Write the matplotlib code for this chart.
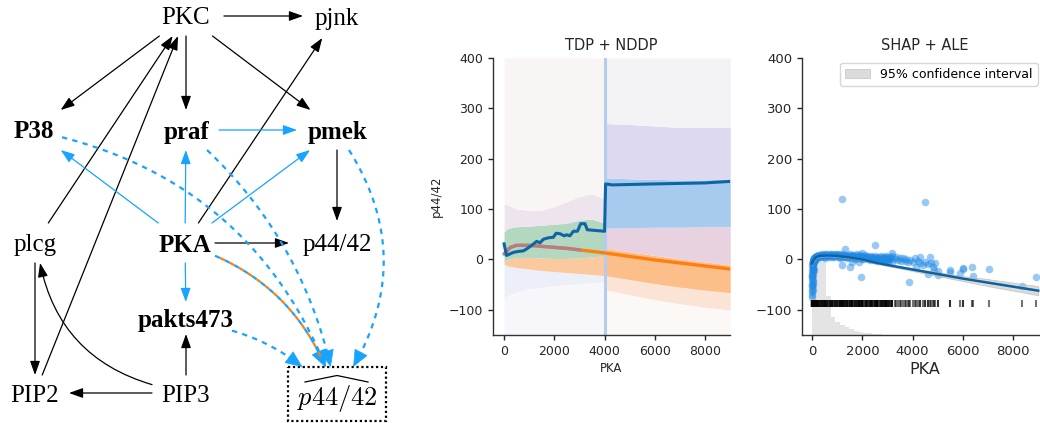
import matplotlib
matplotlib.use("Agg")
import matplotlib.pyplot as plt
import numpy as np
from matplotlib.patches import FancyArrowPatch, Rectangle

# ------------------------------------------------------------------ data
# causal graph
node_names = ["PKC", "pjnk", "P38", "praf", "pmek", "plcg", "PKA", "p44/42",
              "pakts473", "PIP2", "PIP3", "hat"]
bold_nodes = ["P38", "praf", "pmek", "PKA", "pakts473"]
target_label = r"$p44/42$"
edges_black = [("PKC", "pjnk", 0.0), ("PKC", "P38", 0.0), ("PKC", "praf", 0.0),
               ("PKC", "pmek", 0.0), ("PKA", "pjnk", 0.0), ("PKA", "p44/42", 0.0),
               ("pmek", "p44/42", 0.0), ("plcg", "PKC", 0.0), ("PIP2", "PKC", 0.0),
               ("plcg", "PIP2", 0.0), ("PIP3", "PIP2", 0.0), ("PIP3", "plcg", -0.3),
               ("PIP3", "pakts473", 0.0)]
edges_blue = [("praf", "pmek", 0.0), ("PKA", "P38", 0.0), ("PKA", "praf", 0.0),
              ("PKA", "pmek", 0.0), ("PKA", "pakts473", 0.0)]
edges_dashed = [("P38", "hat", -0.25), ("praf", "hat", -0.15),
                ("pmek", "hat", -0.3), ("pakts473", "hat", -0.1)]
edge_highlight = ("PKA", "hat", -0.2)

# TDP + NDDP panel
pka_left = [0, 150, 500, 1000, 1500, 2000, 2500, 3000, 3500, 4000]
green_hi = [55, 62, 65, 66, 68, 70, 72, 78, 80, 72]
green_lo = [-4, 0, 4, 4, 3, 2, 2, 3, 5, 8]
orange_lo_left = [-10, -13, -16, -19, -22, -24, -26, -28, -30, -32]
haze_hi_left = [110, 108, 100, 98, 98, 105, 115, 125, 130, 120]
haze_lo_left = [-80, -72, -64, -58, -55, -52, -50, -48, -46, -44]

pka_right = [4000, 5000, 6000, 7000, 8000, 9000]
lav_hi_right = [270, 268, 265, 262, 262, 262]
blue_hi_right = [162, 160, 159, 158, 158, 160]
blue_lo_right = [62, 63, 64, 64, 65, 65]
orng_hi_right = [22, 15, 8, 1, -5, -11]
orng_lo_right = [-32, -40, -48, -55, -61, -66]
peach_lo_right = [-60, -70, -80, -88, -95, -100]

nddp_x = [0, 250, 500, 1000, 1500, 2000, 2500, 3000, 3500, 4000,
          5000, 6000, 7000, 8000, 9000]
nddp_y = [11, 24, 28, 28, 26, 24, 22, 19, 16, 13, 6, -1, -7, -13, -19]

tdp_x = [0, 100, 370, 570, 770, 900, 1100, 1300, 1430, 1560, 1760, 1960, 2070,
         2230, 2390, 2490, 2620, 2760, 2920, 3050, 3220, 3310, 4000, 4040,
         4300, 6000, 8000, 9000]
tdp_y = [31, 8, 14, 16, 17, 21, 28, 36, 33, 40, 43, 44, 52, 51, 47, 49, 47, 56,
         56, 71, 71, 59, 56, 150, 148, 150, 152, 155]

# SHAP + ALE panel
shap_x = [5, 8, 10, 12, 10, 15, 15, 18, 20, 22, 25, 30, 35, 40, 50, 60, 70, 80,
          90, 100, 30, 40, 50, 60, 20, 45, 70, 90, 110, 130, 150, 170,
          0, 0, 5, 10, 20, 25, 35, 15, 8, 40, 55, 65, 85, 12, 28, 48, 75, 95,
          120, 160, 200, 250, 300, 350, 400, 450, 500, 550, 600, 700, 750, 800,
          900, 950, 1000, 1100, 1150, 1250, 1300, 1400, 1500, 1550, 1600, 1700,
          1800, 1850, 1900, 2000, 2100, 2150, 2200, 2300, 2350, 2400, 2500, 2550,
          2600, 2700, 2750, 2800, 2850, 2900, 2950, 3000, 3050, 3100, 3150, 3200,
          3300, 3350, 3400, 3500, 3550, 3600, 3700, 3750, 3800, 3900, 4000, 4100,
          4200, 4300, 4400, 4500, 4600, 4700, 4800, 4900, 5000, 4850,
          130, 180, 220, 280, 330, 380, 420, 480, 530, 580, 630, 680, 730, 780,
          830, 880, 930, 980, 1030, 1080, 1130, 1180, 1230, 1280, 1330, 1380,
          1430, 1480, 1530, 1580, 1630, 1680, 1730, 1780, 1830, 1880, 1930, 1980,
          2030, 2080, 2130, 2180, 2230, 2280, 2330, 2380, 2430, 2480, 2530, 2580,
          2630, 2680, 2730, 2780, 2830, 2880, 2930, 2980, 3030, 3080,
          250, 500, 800, 1100, 1400, 1700, 2000, 2300, 2600, 2900, 3200,
          1200, 4500, 2500, 1300, 1200, 1500, 1950, 3850, 5500, 5500, 5900, 6000,
          6000, 6350, 6400, 7050, 8350, 8900, 2000, 1850, 1600, 3200, 4300, 4150,
          4750, 4600, 5000]
shap_y = [-75, -65, -55, -48, -40, -35, -28, -22, -18, -14, -10, -8, -5, -3, -2,
          0, -1, 2, 1, 3, -60, -45, -30, -20, -50, -12, -6, -4, -2, 0, 4, 2,
          -70, -50, -30, -20, -8, -40, -25, -60, -12, -15, -8, -3, -2, -35, -18,
          -6, 0, 2,
          5, 7, 6, 8, 9, 8, 10, 9, 11, 9, 10, 11, 9, 10, 11, 9, 10, 11, 8, 10, 9,
          8, 10, 7, 9, 8, 10, 7, 8, 7, 9, 5, 6, 4, 7, 5, 6, 3, 5, 4, 7, 3, 5, 2, 6,
          4, 0, 5, 2, 6, 0, 4, -2, 3, -3, 2, -4, 0, -6, -2, -5, 2, -3, -8, -12,
          -5, -10, 5, -15, -8, -22, -20,
          1, 4, 7, 4, 6, 5, 7, 5, 8, 6, 7, 5, 8, 6, 8, 5, 7, 6, 8, 5, 7, 4, 7, 5,
          6, 4, 7, 5, 6, 3, 6, 4, 6, 3, 5, 2, 5, 3, 4, 1, 4, 2, 3, 0, 3, 1, 2, -1,
          2, 0, 1, -2, 1, -1, 0, -3, 1, -2, -1, -3,
          2, 3, 4, 3, 2, 1, 0, -2, -3, -4, -6,
          120, 115, 28, 20, -12, -15, -35, -45, -20, -25, -26, -17, -18, -15,
          -32, -18, -52, -35, 13, -5, -5, 12, 4, -15, -8, -28, -30]
ale_x = [0, 50, 150, 300, 600, 1000, 1500, 2000, 2500, 3000, 4000, 5000, 6000,
         7000, 8000, 9000]
ale_y = [-8, -2, 4, 7, 8, 7, 4, 0, -6, -11, -20, -29, -38, -46, -54, -62]
ale_ci = [4, 3, 2, 2, 2, 2, 2, 2, 2, 2, 3, 4, 5, 7, 8, 9]
hist_edges = [0, 185, 370, 555, 740, 925, 1110, 1295, 1480, 1665, 1850, 2035,
              2220, 2405, 2590, 2775]
hist_top = [-30, -6, -6, -72, -115, -125, -131, -135, -139, -142, -144, -146,
            -147, -148, -149]

# ------------------------------------------------------------------ figure
W, H = 1040, 423
fig = plt.figure(figsize=(W / 100, H / 100), dpi=100)

# ---------------- graph (pixel-like coordinates)
ax0 = fig.add_axes([0, 0, 416 / W, 1])
ax0.set_xlim(0, 416)
ax0.set_ylim(H, 0)
ax0.axis("off")

pos = {"PKC": (186, 16), "pjnk": (337, 16), "P38": (34, 130), "praf": (186, 130),
       "pmek": (337, 130), "plcg": (35, 243), "PKA": (185, 243),
       "p44/42": (337, 243), "pakts473": (186, 318), "PIP2": (35, 393),
       "PIP3": (186, 393), "hat": (337, 394)}
half = {"PKC": (38, 20), "pjnk": (34, 22), "P38": (28, 20), "praf": (33, 20),
        "pmek": (40, 20), "plcg": (30, 20), "PKA": (30, 20), "p44/42": (48, 22),
        "pakts473": (46, 16), "PIP2": (34, 18), "PIP3": (34, 18), "hat": (49, 27)}

serif = "Liberation Serif"
for n in node_names:
    x, y = pos[n]
    if n == "hat":
        ax0.text(x, y + 11, target_label, fontsize=19, ha="center", va="baseline",
                 math_fontfamily="cm")
        ax0.plot([x - 32, x, x + 31], [y - 12, y - 18.5, y - 12], color="black",
                 lw=0.9, solid_joinstyle="miter")
        w, h = half[n]
        ax0.add_patch(Rectangle((x - w, y - h), 2 * w, 2 * h, fill=False,
                                ls=(0, (1, 1.2)), lw=1.6, ec="black"))
    else:
        ax0.text(x, y + 8.5, n, fontsize=18, family=serif, ha="center",
                 va="baseline", weight="bold" if n in bold_nodes else "normal")


def clip(node, d):
    cx, cy = pos[node]
    w, h = half[node]
    dx, dy = d
    t = min(w / abs(dx) if dx else np.inf, h / abs(dy) if dy else np.inf)
    return (cx + dx * t, cy + dy * t)


def ends(a, b, rad):
    p0 = np.array(pos[a], float)
    p2 = np.array(pos[b], float)
    m = (p0 + p2) / 2
    dx, dy = p2 - p0
    c = m + rad * np.array([-dy, dx])
    return clip(a, c - p0), clip(b, c - p2)


def arrow(a, b, rad, color, lw, ms=12, hl=0.7, hw=0.25):
    s, e = ends(a, b, rad)
    p = FancyArrowPatch(s, e, arrowstyle=f"-|>,head_length={hl},head_width={hw}",
                        connectionstyle=f"arc3,rad={rad}", mutation_scale=ms,
                        color=color, lw=lw, shrinkA=0, shrinkB=0)
    ax0.add_patch(p)


def dashed(a, b, rad, color, offset=0.0, head=True):
    s, e = (np.array(p) for p in ends(a, b, rad))
    d = e - s
    c = (s + e) / 2 + rad * np.array([-d[1], d[0]])
    t = np.linspace(0, 1, 120)[:, None]
    pts = (1 - t) ** 2 * s + 2 * t * (1 - t) * c + t ** 2 * e
    dist = np.hypot(*(pts - e).T)
    keep = dist > 9
    ax0.plot(pts[keep, 0], pts[keep, 1], color=color, lw=1.6,
             linestyle=(offset, (2.4, 2.4)), dash_capstyle="butt")
    if head:
        i = np.argmin(np.abs(dist - 17))
        ax0.add_patch(FancyArrowPatch(tuple(pts[i]), tuple(e),
                                      arrowstyle="-|>,head_length=0.75,head_width=0.32",
                                      mutation_scale=15, color=color, lw=0.5,
                                      shrinkA=0, shrinkB=0))


BLUE = "#17a3ff"
for a, b, r in edges_black:
    arrow(a, b, r, "black", 0.9)
for a, b, r in edges_blue:
    arrow(a, b, r, BLUE, 0.9)
for a, b, r in edges_dashed:
    dashed(a, b, r, BLUE)
a, b, r = edge_highlight
dashed(a, b, r, BLUE)
dashed(a, b, r, "#ff7f0e", offset=2.4, head=False)

# ---------------- TDP + NDDP
TXT = "#262626"
ax1 = fig.add_axes([493 / W, (H - 335) / H, 237 / W, 277 / H])
ax1.set_xlim(-440, 8990)
ax1.set_ylim(-150, 400)
yl, yh = ax1.get_ylim()

ax1.fill_between(pka_left, yl, haze_lo_left, color="#f7f7fb", lw=0)
ax1.fill_between(pka_left, haze_lo_left, orange_lo_left, color="#eceef8", lw=0)
ax1.fill_between(pka_left, orange_lo_left, green_lo, color="#fbc99e", lw=0)
ax1.fill_between(pka_left, green_lo, green_hi, color="#b3d7bf", lw=0)
ax1.fill_between(pka_left, green_hi, haze_hi_left, color="#eee4ee", lw=0)
ax1.fill_between(pka_left, haze_hi_left, yh, color="#faf5f5", lw=0)

ax1.fill_between(pka_right, yl, peach_lo_right, color="#fcf8f6", lw=0)
ax1.fill_between(pka_right, peach_lo_right, orng_lo_right, color="#fbe4d6", lw=0)
ax1.fill_between(pka_right, orng_lo_right, orng_hi_right, color="#fcbf8a", lw=0)
ax1.fill_between(pka_right, orng_hi_right, blue_lo_right, color="#e9d2df", lw=0)
ax1.fill_between(pka_right, blue_lo_right, blue_hi_right, color="#a6cbee", lw=0)
ax1.fill_between(pka_right, blue_hi_right, lav_hi_right, color="#ddd9f0", lw=0)
ax1.fill_between(pka_right, lav_hi_right, yh, color="#f3f3f5", lw=0)
ax1.axvline(pka_left[-1], color="#b2cdee", lw=2.2)

ax1.plot(nddp_x, nddp_y, color="#ff7f0e", lw=2.4, solid_capstyle="butt")
mx = [x for x in nddp_x if x <= 3000]
ax1.plot(mx, nddp_y[:len(mx)], color="#a97c9d", lw=2.4, alpha=0.85)
ax1.plot(tdp_x, tdp_y, color="#0e65a6", lw=2.2)

ax1.set_title("TDP + NDDP", fontsize=10.5, color=TXT, pad=6)
ax1.set_xlabel("PKA", fontsize=8.5, color=TXT, labelpad=3)
ax1.set_ylabel("p44/42", fontsize=8.5, color=TXT, labelpad=4)
ax1.set_xticks([0, 2000, 4000, 6000, 8000])
ax1.set_yticks([-100, 0, 100, 200, 300, 400])
ax1.tick_params(labelsize=9, colors=TXT, length=3.5, width=1, direction="out")

# ---------------- SHAP + ALE
ax2 = fig.add_axes([802 / W, (H - 335) / H, 9800 * 237 / 9430 / W, 277 / H])
ax2.set_xlim(-400, 9400)
ax2.set_ylim(-150, 400)
b = ax2.get_ylim()[0]
ax2.bar(hist_edges[:-1], [t - b for t in hist_top], width=np.diff(hist_edges),
        bottom=b, align="edge", color="#e4e4e4", lw=0)
ax2.vlines(shap_x, -95, -80, color="black", lw=1.5, alpha=0.55)
ax2.scatter(shap_x, shap_y, s=30, color="#1e88e5", alpha=0.45, lw=0)
lo = [y - c for y, c in zip(ale_y, ale_ci)]
hi = [y + c for y, c in zip(ale_y, ale_ci)]
ax2.fill_between(ale_x, lo, hi, color="#c4c4c4", alpha=0.6, lw=0.6,
                 edgecolor="#b0b0b0", label="95% confidence interval")
ax2.plot(ale_x, ale_y, color="#0b62a4", lw=1.8)

ax2.set_title("SHAP + ALE", fontsize=10.5, color=TXT, pad=6)
ax2.set_xlabel("PKA", fontsize=11.5, color=TXT, labelpad=3)
ax2.set_xticks([0, 2000, 4000, 6000, 8000])
ax2.set_yticks([-100, 0, 100, 200, 300, 400])
ax2.tick_params(labelsize=9.5, colors=TXT, length=3.5, width=1, direction="out")
ax2.legend(loc="upper left", bbox_to_anchor=(840 / W, 1 - 63 / H),
           bbox_transform=fig.transFigure, borderaxespad=0, fontsize=9,
           frameon=True)

for ax in (ax1, ax2):
    for s in ("top", "right"):
        ax.spines[s].set_visible(False)
    for s in ("left", "bottom"):
        ax.spines[s].set_color("#333333")
        ax.spines[s].set_linewidth(1.0)

fig.savefig("out.png", dpi=100)
